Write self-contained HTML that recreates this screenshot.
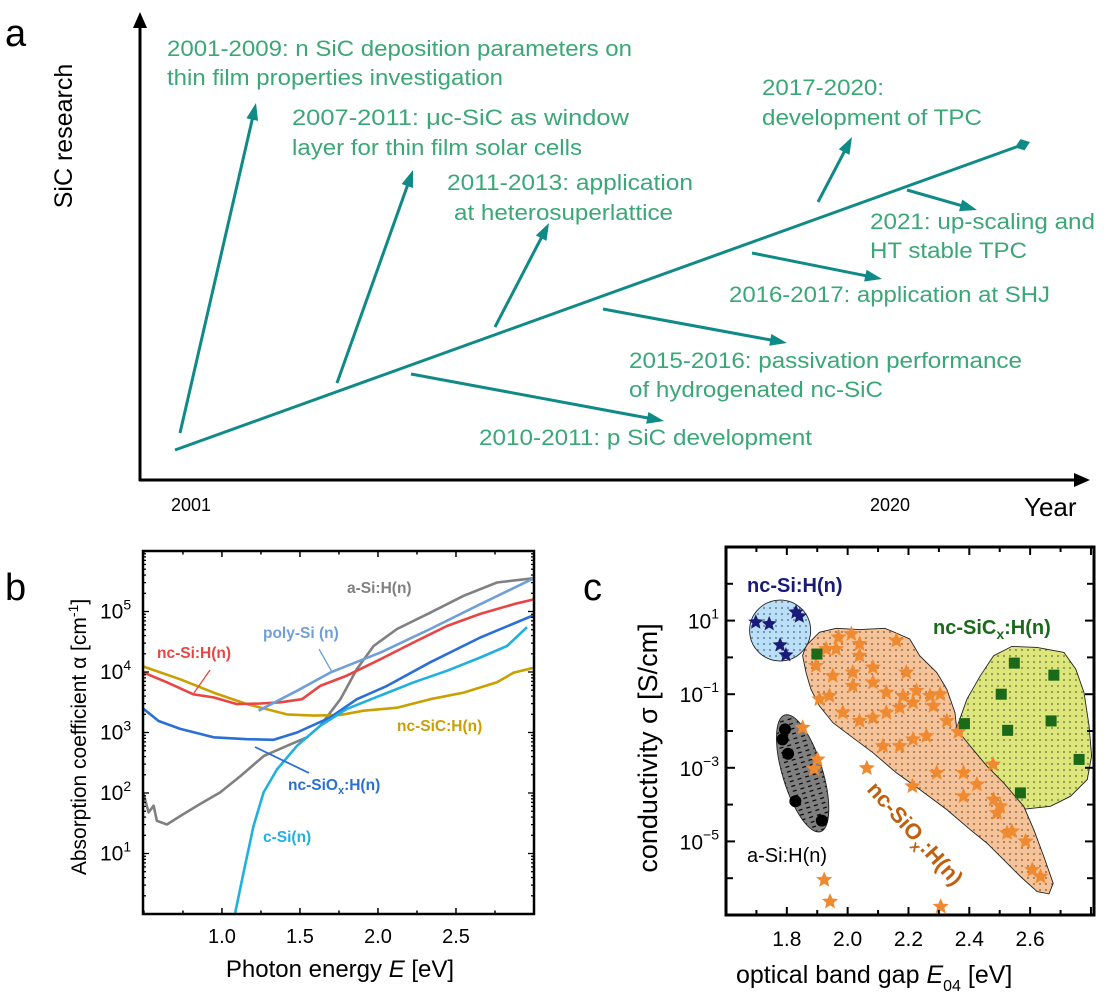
<!DOCTYPE html>
<html><head><meta charset="utf-8"><style>
html,body{margin:0;padding:0;background:#fff}
svg{display:block;font-family:"Liberation Sans",Arial,sans-serif}
</style></head><body>
<svg id="fig" xmlns="http://www.w3.org/2000/svg" width="1110" height="1004" viewBox="0 0 1110 1004">
<defs>
<pattern id="dots" width="6" height="6" patternUnits="userSpaceOnUse"><circle cx="2" cy="2" r="0.9" fill="#000" fill-opacity="0.55"/></pattern>
<pattern id="dash" width="5" height="8" patternUnits="userSpaceOnUse"><line x1="2" y1="0" x2="2" y2="4" stroke="#000" stroke-width="1.2"/></pattern>
<clipPath id="clipB"><rect x="143" y="551" width="391" height="363"/></clipPath>
<clipPath id="clipC"><rect x="726" y="547" width="368" height="368"/></clipPath>
</defs>
<text x="5" y="46" font-size="38">a</text>
<text x="5" y="600" font-size="38">b</text>
<text x="583" y="600" font-size="38">c</text>

<g>
<line x1="140" y1="20" x2="140" y2="481" stroke="#000" stroke-width="3"/>
<polygon points="140,12 133,28 147,28" fill="#000"/>
<line x1="139" y1="480" x2="1080" y2="480" stroke="#000" stroke-width="3"/>
<polygon points="1090,480 1074,473 1074,487" fill="#000"/>
</g>
<text transform="translate(72,136) rotate(-90)" text-anchor="middle" font-size="25">SiC research</text>
<text x="171" y="511" font-size="18">2001</text>
<text x="870" y="511" font-size="18">2020</text>
<text x="1024" y="516" font-size="26">Year</text>
<g id="timeline"></g>
<g fill="#3aa777" font-size="22.5">
<text x="167" y="56" textLength="465" lengthAdjust="spacingAndGlyphs">2001-2009: n SiC deposition parameters on</text>
<text x="167" y="85" textLength="336" lengthAdjust="spacingAndGlyphs">thin film properties investigation</text>
<text x="292" y="125" textLength="337" lengthAdjust="spacingAndGlyphs">2007-2011:   μc-SiC as window</text>
<text x="292" y="155" textLength="290" lengthAdjust="spacingAndGlyphs">layer for thin film solar cells</text>
<text x="447" y="190" textLength="246" lengthAdjust="spacingAndGlyphs">2011-2013: application</text>
<text x="454" y="220" textLength="219" lengthAdjust="spacingAndGlyphs">at heterosuperlattice</text>
<text x="762" y="95" textLength="122" lengthAdjust="spacingAndGlyphs">2017-2020:</text>
<text x="762" y="125" textLength="220" lengthAdjust="spacingAndGlyphs">development of TPC</text>
<text x="870" y="229" textLength="225" lengthAdjust="spacingAndGlyphs">2021: up-scaling and</text>
<text x="870" y="258" textLength="157" lengthAdjust="spacingAndGlyphs">HT stable TPC</text>
<text x="729" y="302" textLength="321" lengthAdjust="spacingAndGlyphs">2016-2017: application at SHJ</text>
<text x="629" y="368" textLength="393" lengthAdjust="spacingAndGlyphs">2015-2016: passivation performance</text>
<text x="629" y="397" textLength="254" lengthAdjust="spacingAndGlyphs">of hydrogenated nc-SiC</text>
<text x="479" y="445" textLength="333" lengthAdjust="spacingAndGlyphs">2010-2011: p SiC development</text>
</g>

<g id="panelB"></g>
<text transform="translate(86,737) rotate(-90)" text-anchor="middle" font-size="21">Absorption coefficient α [cm<tspan font-size="14" dy="-8">-1</tspan><tspan dy="8">]</tspan></text>
<text x="340" y="977" text-anchor="middle" font-size="24">Photon energy <tspan font-style="italic">E</tspan> [eV]</text>
<g font-weight="bold" font-size="15.5">
<text x="347" y="593" fill="#808080">a-Si:H(n)</text>
<text x="263" y="638" fill="#6f9fd6">poly-Si (n)</text>
<text x="157" y="658" fill="#e84545">nc-Si:H(n)</text>
<text x="397" y="731" fill="#c9a000">nc-SiC:H(n)</text>
<text x="288" y="790" fill="#2a6fd6">nc-SiO<tspan font-size="11" dy="4">x</tspan><tspan dy="-4">:H(n)</tspan></text>
<text x="263" y="842" fill="#20b0e0">c-Si(n)</text>
</g>

<g id="panelC"></g>
<text transform="translate(657,748) rotate(-90)" text-anchor="middle" font-size="27">conductivity σ [S/cm]</text>
<text x="736" y="983" font-size="25">optical band gap <tspan font-style="italic">E</tspan><tspan font-size="16" dy="8">04</tspan><tspan dy="-8"> [eV]</tspan></text>
<text x="747" y="592" font-size="20" font-weight="bold" fill="#1a1a78">nc-Si:H(n)</text>
<text x="933" y="634" font-size="20" font-weight="bold" fill="#1a6a1a">nc-SiC<tspan font-size="14" dy="5">x</tspan><tspan dy="-5">:H(n)</tspan></text>
<text x="747" y="862" font-size="20" fill="#000">a-Si:H(n)</text>
<text transform="translate(866,790) rotate(48)" font-size="22" font-weight="bold" fill="#c0600f">nc-SiO<tspan font-size="15" dy="6">x</tspan><tspan dy="-6">:H(n)</tspan></text>
</svg>
<script>
const NS='http://www.w3.org/2000/svg';
function mk(tag,attrs,parent){const e=document.createElementNS(NS,tag);for(const k in attrs)e.setAttribute(k,attrs[k]);parent.appendChild(e);return e;}

/* ---------- panel a: timeline ---------- */
const tlStartX=[175,180,337,495,411,603,752,818,907];
const tlStartY=[450,433,383,327,374,309,253,202,190];
const tlEndX=[1030,256,413,549,664,787,882,852,977];
const tlEndY=[142,103,170,223,421,343,279,137,210];
const TL=document.getElementById('timeline');
function arrowA(x1,y1,x2,y2,name,diamond){
  const g=mk('g',{},TL);
  
  
  const dx=x2-x1,dy=y2-y1,L=Math.hypot(dx,dy),ux=dx/L,uy=dy/L,px=-uy,py=ux,h=17,w=6;
  mk('line',{x1:x1,y1:y1,x2:x2-ux*h*0.8,y2:y2-uy*h*0.8,stroke:'#0f8a86','stroke-width':3},g);
  if(diamond){
    mk('polygon',{points:`${x2},${y2} ${x2-ux*8+px*6},${y2-uy*8+py*6} ${x2-ux*16},${y2-uy*16} ${x2-ux*8-px*6},${y2-uy*8-py*6}`,fill:'#0f8a86'},g);
  } else {
    mk('polygon',{points:`${x2},${y2} ${x2-ux*h+px*w},${y2-uy*h+py*w} ${x2-ux*h-px*w},${y2-uy*h-py*w}`,fill:'#0f8a86'},g);
  }
}
for(let i=0;i<tlStartX.length;i++){
  arrowA(tlStartX[i],tlStartY[i],tlEndX[i],tlEndY[i],i===0?'timeline-main-arrow':'timeline-branch-arrow-'+i,i===0);
}

/* ---------- panel b: absorption ---------- */
const aSiE=[0.498,0.53,0.562,0.583,0.647,0.733,0.861,0.989,1.118,1.267,1.417,1.545,1.63,1.759,1.865,1.972,2.122,2.335,2.549,2.763,3.0];
const aSiLog=[1.98,1.68,1.79,1.54,1.48,1.62,1.82,2.01,2.28,2.61,2.78,2.92,3.11,3.55,4.05,4.43,4.71,4.98,5.26,5.48,5.55];
const polyE=[1.235,1.481,1.694,2.015,2.335,2.656,3.0];
const polyLog=[3.36,3.69,3.99,4.32,4.71,5.12,5.55];
const ncSiE=[0.498,0.647,0.818,0.946,1.096,1.246,1.374,1.513,1.63,1.801,2.015,2.229,2.442,2.656,2.87,2.998];
const ncSiLog=[3.99,3.83,3.63,3.58,3.47,3.48,3.50,3.55,3.77,3.94,4.21,4.49,4.76,4.96,5.12,5.20];
const ncSiCE=[0.498,0.733,0.946,1.16,1.417,1.588,1.759,1.908,2.122,2.335,2.549,2.763,2.87,2.998];
const ncSiCLog=[4.09,3.88,3.66,3.47,3.30,3.28,3.29,3.36,3.41,3.55,3.66,3.83,3.99,4.07];
const ncSiOxE=[0.498,0.594,0.733,0.946,1.16,1.331,1.481,1.694,1.865,2.058,2.335,2.656,3.0];
const ncSiOxLog=[3.39,3.19,3.06,2.92,2.89,2.88,3.0,3.25,3.55,3.77,4.16,4.57,4.94];
const cSiE=[1.085,1.139,1.203,1.267,1.353,1.481,1.63,1.801,2.015,2.229,2.442,2.656,2.827,2.955];
const cSiLog=[0.02,0.69,1.46,2.01,2.39,2.78,3.11,3.39,3.61,3.83,4.02,4.24,4.43,4.74];
const bXTicks=[1.0,1.5,2.0,2.5];
const bXTickLabels=['1.0','1.5','2.0','2.5'];
const bYTicks=[1,2,3,4,5];

const bX0=143,bX1=534,bY0=551,bY1=914,bEmin=0.494,bEmax=3.0,bLmin=0,bLmax=6;
const xB=e=>bX0+(e-bEmin)/(bEmax-bEmin)*(bX1-bX0);
const yB=l=>bY1-(l-bLmin)/(bLmax-bLmin)*(bY1-bY0);
const PB=document.getElementById('panelB');
function lineB(E,Lg,color,name){
  const d=E.map((e,i)=>(i?'L':'M')+xB(e).toFixed(1)+','+yB(Lg[i]).toFixed(1)).join(' ');
  const p=mk('path',{d:d,fill:'none',stroke:color,'stroke-width':2.6,'stroke-linejoin':'round','clip-path':'url(#clipB)'},PB);
  
  
}
lineB(aSiE,aSiLog,'#808080','series-a-si');
lineB(ncSiCE,ncSiCLog,'#c9a000','series-nc-sic');
lineB(ncSiE,ncSiLog,'#e84545','series-nc-si');
lineB(polyE,polyLog,'#6f9fd6','series-poly-si');
lineB(ncSiOxE,ncSiOxLog,'#2a6fd6','series-nc-siox');
lineB(cSiE,cSiLog,'#20b0e0','series-c-si');
mk('line',{x1:319,y1:649,x2:332,y2:672,stroke:'#6f9fd6','stroke-width':1.3},PB);
mk('line',{x1:194,y1:693,x2:210,y2:670,stroke:'#e84545','stroke-width':1.3},PB);
mk('line',{x1:255,y1:747,x2:309,y2:773,stroke:'#2a6fd6','stroke-width':1.8},PB);
const fb=mk('rect',{x:bX0,y:bY0,width:bX1-bX0,height:bY1-bY0,fill:'none',stroke:'#000','stroke-width':2.5},PB);


for(let e=0.5;e<=3.0001;e+=0.25){
  const major=bXTicks.some(t=>Math.abs(t-e)<1e-6),len=major?6:3.5,x=xB(e);
  mk('line',{x1:x,y1:bY1,x2:x,y2:bY1-len,stroke:'#000','stroke-width':1.5},PB);
  mk('line',{x1:x,y1:bY0,x2:x,y2:bY0+len,stroke:'#000','stroke-width':1.5},PB);
}
bXTicks.forEach((t,i)=>{
  const tx=mk('text',{x:xB(t),y:943,'text-anchor':'middle','font-size':20},PB);
  tx.textContent=bXTickLabels[i];
  
  
});
for(let d=0;d<6;d++){
  for(let m=1;m<10;m++){
    const l=d+Math.log10(m),y=yB(l),len=m===1?6:3;
    if(l<=bLmin||l>=bLmax)continue;
    mk('line',{x1:bX0,y1:y,x2:bX0+len,y2:y,stroke:'#000','stroke-width':1.3},PB);
    mk('line',{x1:bX1,y1:y,x2:bX1-len,y2:y,stroke:'#000','stroke-width':1.3},PB);
  }
}
bYTicks.forEach(t=>{
  const tx=mk('text',{x:100,y:yB(t)+7,'font-size':21},PB);
  
  
  tx.appendChild(document.createTextNode('10'));
  const sp=mk('tspan',{'font-size':14,dy:-9},tx);
  sp.textContent=String(t);
});

/* ---------- panel c: conductivity ---------- */
const orangeRegionE=[1.852,1.863,1.907,1.962,2.039,2.122,2.160,2.204,2.237,2.293,2.326,2.353,2.359,2.403,2.458,2.513,2.579,2.612,2.645,2.676,2.662,2.623,2.568,2.513,2.458,2.403,2.326,2.237,2.160,2.083,1.995,1.951,1.907,1.879,1.863];
const orangeRegionLog=[0.045,0.318,0.682,0.791,0.755,0.791,0.664,0.5,0.045,-0.409,-0.864,-1.5,-1.955,-2.409,-2.955,-3.409,-4.045,-4.682,-5.409,-6.136,-6.427,-6.364,-5.955,-5.5,-5.045,-4.682,-4.136,-3.591,-3.136,-2.591,-2.045,-1.773,-1.318,-0.864,-0.409];
const greenRegionE=[2.353,2.392,2.436,2.480,2.540,2.623,2.711,2.750,2.777,2.794,2.802,2.788,2.733,2.667,2.568,2.491,2.414,2.370,2.356];
const greenRegionLog=[-2.045,-1.136,-0.5,0.045,0.3,0.273,0.136,-0.318,-0.955,-1.864,-2.682,-3.318,-3.773,-4.045,-4.136,-4.045,-3.5,-2.955,-2.409];
const ncSiRegionCenter=[1.778,0.73];
const aSiRegionCenter=[1.852,-3.15];
const ncSiStarE=[1.698,1.742,1.830,1.841,1.778,1.797];
const ncSiStarLog=[0.955,0.909,1.227,1.118,0.336,0.064];
const aSiDotE=[1.794,1.786,1.804,1.828,1.915];
const aSiDotLog=[-1.955,-2.227,-2.618,-3.909,-4.436];
const sicSquareE=[1.899,2.384,2.505,2.548,2.678,2.526,2.669,2.761,2.568];
const sicSquareLog=[0.091,-1.8,-1.0,-0.155,-0.482,-1.982,-1.727,-2.773,-3.682];
const sioxStarE=[1.97,2.012,2.039,1.962,2.039,2.083,2.160,2.193,2.017,1.951,1.907,1.940,2.017,2.083,2.127,2.182,2.226,2.271,2.304,1.984,2.039,2.083,2.127,2.171,2.215,2.282,2.326,2.116,2.171,2.215,2.259,2.293,2.381,2.425,2.381,2.480,2.502,2.491,2.524,2.540,2.585,2.607,2.634,1.929,1.896,1.852,1.901,1.890,2.063,2.213,1.923,1.942,2.306,2.478,2.364];
const sioxStarLog=[0.545,0.636,0.364,0.227,0.045,-0.273,0.455,-0.409,-0.409,-0.5,-1.136,-1.045,-0.773,-0.682,-0.955,-1.045,-0.909,-1.045,-1.0,-1.5,-1.727,-1.636,-1.5,-1.364,-1.227,-1.318,-1.727,-2.409,-2.409,-2.227,-2.136,-3.136,-3.136,-3.455,-3.773,-3.864,-4.045,-4.227,-4.773,-4.727,-5.0,-5.773,-5.955,0.227,-0.227,-1.909,-2.773,-3.027,-3.009,-3.5,-6.045,-6.636,-6.773,-2.909,-2.027];
const cXTicks=[1.8,2.0,2.2,2.4,2.6];
const cXTickLabels=['1.8','2.0','2.2','2.4','2.6'];
const cYTickLabels=[1,-1,-3,-5];

const cX0=726,cX1=1094,cY0=547,cY1=915,cEmin=1.6,cEmax=2.81,cLmin=-7,cLmax=3;
const xC=e=>cX0+(e-cEmin)/(cEmax-cEmin)*(cX1-cX0);
const yC=l=>cY1-(l-cLmin)/(cLmax-cLmin)*(cY1-cY0);
const PC=document.getElementById('panelC');
const gClip=mk('g',{'clip-path':'url(#clipC)'},PC);
function region(E,Lg,fill,name){
  const d=E.map((e,i)=>(i?'L':'M')+xC(e).toFixed(1)+','+yC(Lg[i]).toFixed(1)).join(' ')+' Z';
  const g=mk('g',{},gClip);
  
  
  mk('path',{d:d,fill:fill},g);
  mk('path',{d:d,fill:'url(#dots)',stroke:'#222','stroke-width':0.9},g);
}
region(greenRegionE,greenRegionLog,'#dde67a','region-nc-sicx');
region(orangeRegionE,orangeRegionLog,'#f6c298','region-nc-siox');
{const g=mk('g',{},gClip);


const cx=xC(ncSiRegionCenter[0]),cy=yC(ncSiRegionCenter[1]);
mk('circle',{cx:cx,cy:cy,r:30.5,fill:'#b9e0f8'},g);
mk('circle',{cx:cx,cy:cy,r:30.5,fill:'url(#dots)',stroke:'#222','stroke-width':0.9},g);}
{const g=mk('g',{},gClip);


const cx=xC(aSiRegionCenter[0]),cy=yC(aSiRegionCenter[1]);
const tr=`rotate(73 ${cx} ${cy})`;
mk('ellipse',{cx:cx,cy:cy,rx:61,ry:20,fill:'#808080',transform:tr},g);
mk('ellipse',{cx:cx,cy:cy,rx:61,ry:20,fill:'url(#dash)',stroke:'#222','stroke-width':0.9,transform:tr},g);}
function starPts(cx,cy,R){const r=R*0.45;let p=[];for(let i=0;i<10;i++){const a=-Math.PI/2+i*Math.PI/5,rr=i%2?r:R;p.push((cx+rr*Math.cos(a)).toFixed(1)+','+(cy+rr*Math.sin(a)).toFixed(1));}return p.join(' ');}
sioxStarE.forEach((e,i)=>{
  const s=mk('polygon',{points:starPts(xC(e),yC(sioxStarLog[i]),8.5),fill:'#f08a30'},gClip);
  
  
});
ncSiStarE.forEach((e,i)=>{
  const s=mk('polygon',{points:starPts(xC(e),yC(ncSiStarLog[i]),8),fill:'#1a1a78'},gClip);
  
  
});
aSiDotE.forEach((e,i)=>{
  const s=mk('circle',{cx:xC(e),cy:yC(aSiDotLog[i]),r:6,fill:'#000'},gClip);
  
  
});
sicSquareE.forEach((e,i)=>{
  const s=mk('rect',{x:xC(e)-5.5,y:yC(sicSquareLog[i])-5.5,width:11,height:11,fill:'#1a6a1a'},gClip);
  
  
});
const fc=mk('rect',{x:cX0,y:cY0,width:cX1-cX0,height:cY1-cY0,fill:'none',stroke:'#000','stroke-width':3},PC);


for(let k=17;k<=28;k++){
  const e=k/10,x=xC(e),major=(k%2===0),len=major?8:5;
  if(x<=cX0+1||x>=cX1-1)continue;
  mk('line',{x1:x,y1:cY1,x2:x,y2:cY1-len,stroke:'#000','stroke-width':2},PC);
  mk('line',{x1:x,y1:cY0,x2:x,y2:cY0+len,stroke:'#000','stroke-width':2},PC);
}
cXTicks.forEach((t,i)=>{
  const tx=mk('text',{x:xC(t),y:946,'text-anchor':'middle','font-size':21},PC);
  tx.textContent=cXTickLabels[i];
  
  
});
for(let l=-6;l<=2;l++){
  const y=yC(l),len=(l%2!==0)?9:7;
  mk('line',{x1:cX0,y1:y,x2:cX0+len,y2:y,stroke:'#000','stroke-width':2},PC);
  mk('line',{x1:cX1,y1:y,x2:cX1-len,y2:y,stroke:'#000','stroke-width':2},PC);
}
cYTickLabels.forEach(t=>{
  const tx=mk('text',{x:719,y:yC(t)+8,'text-anchor':'end','font-size':21},PC);
  
  
  tx.appendChild(document.createTextNode('10'));
  const sp=mk('tspan',{'font-size':14,dy:-10},tx);
  sp.textContent=(t<0?'\u2212'+(-t):String(t));
});
</script>
</body></html>
